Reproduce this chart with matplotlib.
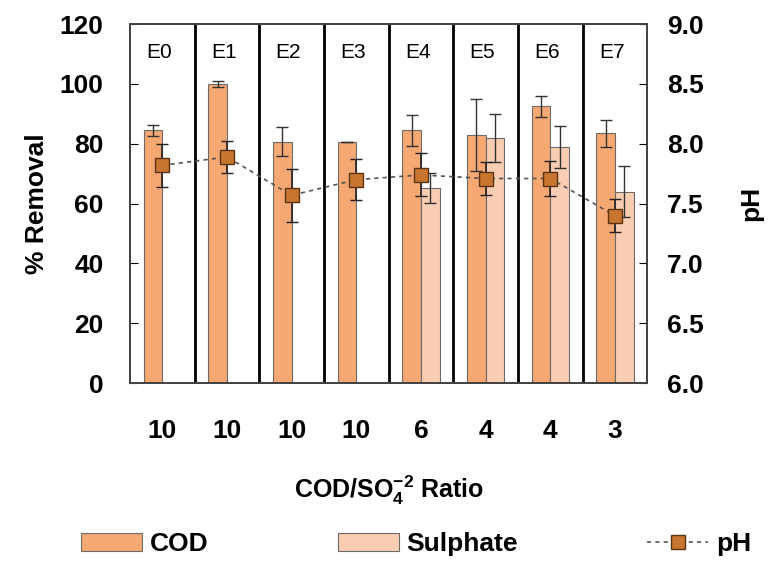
import numpy as np
import matplotlib
matplotlib.use("Agg")
import matplotlib.pyplot as plt
from matplotlib.lines import Line2D
from matplotlib.ticker import FormatStrFormatter

plt.rcParams["font.family"] = ["Liberation Sans", "DejaVu Sans"]
plt.rcParams["mathtext.fontset"] = "custom"
plt.rcParams["mathtext.rm"] = "Liberation Sans:bold"
plt.rcParams["mathtext.default"] = "rm"

# experiments and COD/SO4 ratio
runs = ["E0", "E1", "E2", "E3", "E4", "E5", "E6", "E7"]
ratio_labels = ["10", "10", "10", "10", "6", "4", "4", "3"]

# % removal (left axis)
cod = [84.5, 100.0, 80.7, 80.5, 84.5, 83.0, 92.5, 83.5]
cod_err = [1.8, 1.0, 4.8, 0.0, 5.2, 12.0, 3.5, 4.6]
sulphate = [np.nan, np.nan, np.nan, np.nan, 65.3, 82.0, 78.8, 64.0]
sulphate_err = [np.nan, np.nan, np.nan, np.nan, 5.0, 8.0, 7.0, 8.5]

# pH (right axis)
ph = [7.82, 7.89, 7.57, 7.70, 7.74, 7.71, 7.71, 7.40]
ph_err = [0.18, 0.13, 0.22, 0.17, 0.18, 0.14, 0.15, 0.14]

cod_color = "#F5A872"
sul_color = "#F9CDB2"
ph_color = "#C8762F"

fig = plt.figure(figsize=(7.78, 5.61), dpi=100)
ax = fig.add_axes([0.167, 0.317, 0.665, 0.640])
ax2 = ax.twinx()

x = np.arange(len(runs))
w = 0.29

ax.bar(x - w / 2, cod, w, color=cod_color, edgecolor="#6b6b6b", linewidth=0.8,
       label="COD", zorder=2)
ax.bar(x + w / 2, sulphate, w, color=sul_color, edgecolor="#6b6b6b", linewidth=0.8,
       label="Sulphate", zorder=2)
ax.errorbar(x - w / 2, cod, yerr=cod_err, fmt="none", ecolor="#333333",
            elinewidth=1.0, capsize=4, capthick=1.0, zorder=3)
ax.errorbar(x + w / 2, sulphate, yerr=sulphate_err, fmt="none", ecolor="#333333",
            elinewidth=1.0, capsize=4, capthick=1.0, zorder=3)

# group separators and run labels
for i in range(len(runs) - 1):
    ax.axvline(i + 0.5, color="black", lw=2, zorder=1)
for i, r in enumerate(runs):
    ax.text(i - 0.05, 110.5, r, ha="center", va="center", fontsize=15)

ax.set_xlim(-0.5, len(runs) - 0.5)
ax.set_ylim(0, 120)
ax.set_yticks(np.arange(0, 121, 20))
ax.set_xticks(x)
ax.set_xticklabels(ratio_labels)
ax.tick_params(axis="x", length=0, pad=26, labelsize=19)
ax.tick_params(axis="y", direction="in", length=6, labelsize=19, pad=19)
for lab in ax.get_xticklabels() + ax.get_yticklabels():
    lab.set_fontweight("bold")
ax.set_ylabel("% Removal", fontsize=19, fontweight="bold", labelpad=8)
ax.set_xlabel(r"COD/SO$_4^{-2}$ Ratio", fontsize=18, fontweight="bold", labelpad=22)

ax2.errorbar(x, ph, yerr=ph_err, fmt="s--", color="#555555", ecolor="#222222",
             mfc=ph_color, mec="#5a3412", ms=10, lw=1.2, dashes=(2.5, 2.5),
             elinewidth=1.2, capsize=4, capthick=1.0, zorder=4)
ax2.set_ylim(6, 9)
ax2.set_yticks(np.arange(6, 9.01, 0.5))
ax2.yaxis.set_major_formatter(FormatStrFormatter("%.1f"))
ax2.tick_params(axis="y", direction="in", length=6, labelsize=19, pad=14)
for lab in ax2.get_yticklabels():
    lab.set_fontweight("bold")
ax2.set_ylabel("pH", fontsize=19, fontweight="bold", labelpad=26)

for a in (ax, ax2):
    for s in a.spines.values():
        s.set_color("#444444")
        s.set_linewidth(1.3)

h1, l1 = ax.get_legend_handles_labels()
ph_handle = Line2D([], [], color="#555555", ls="--", dashes=(2.5, 2.5), lw=1.2,
                   marker="s", ms=10, mfc=ph_color, mec="#5a3412")
leg = fig.legend(h1 + [ph_handle], l1 + ["pH"], loc="center",
                 bbox_to_anchor=(0.535, 0.03), ncol=3, frameon=False,
                 handlelength=2.3, handletextpad=0.3, columnspacing=4.9,
                 prop={"size": 19, "weight": "bold"})

fig.savefig("out.png", dpi=100)
